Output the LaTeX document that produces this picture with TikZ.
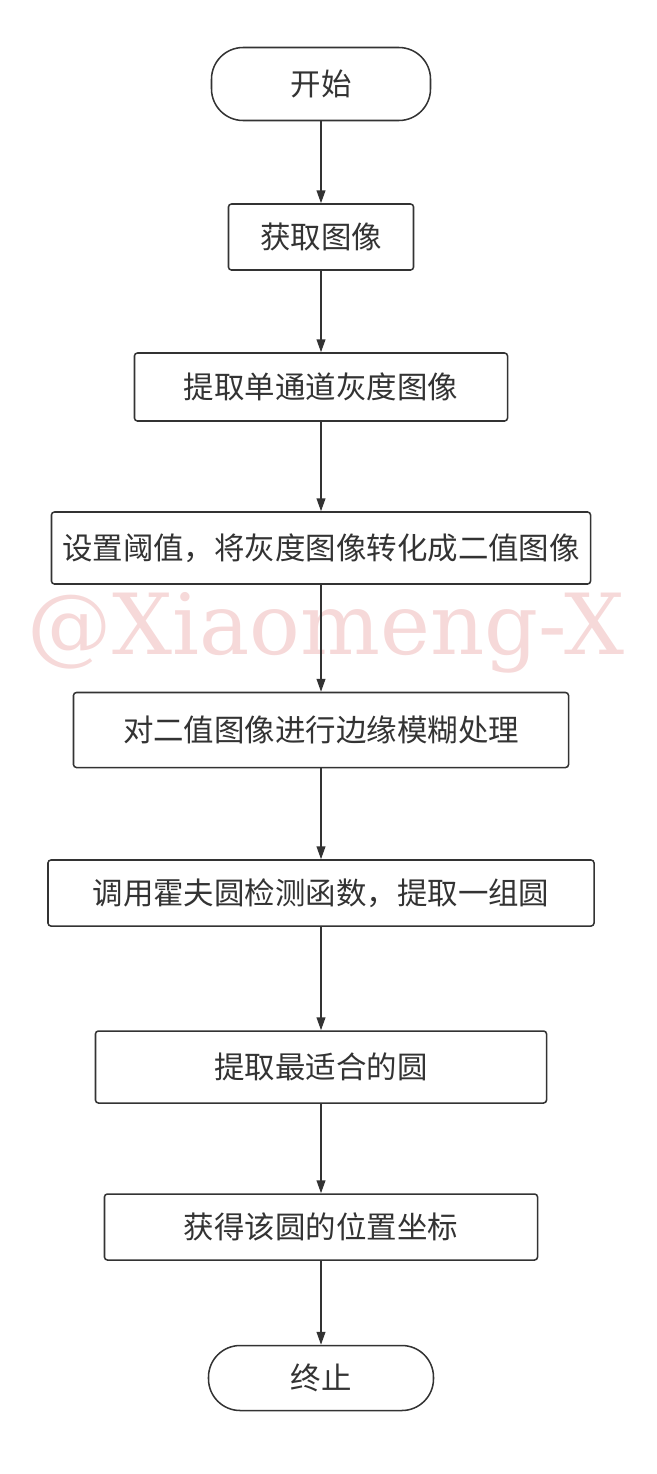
\documentclass[tikz,border=0pt]{standalone}
\usepackage{fontspec}
\setmainfont{Noto Sans CJK SC}
\newfontfamily\markfont{DejaVu Serif}
\usetikzlibrary{arrows.meta, positioning}
\definecolor{linegray}{HTML}{333333}
\definecolor{markpink}{HTML}{F6D9D9}
\tikzset{
    terminal/.style={
        rectangle, rounded corners=0.95cm, draw=linegray, line width=1.3pt,
        fill=white, text=linegray, font=\fontsize{26}{30}\selectfont
    },
    process/.style={
        rectangle, rounded corners=2.5pt, draw=linegray, line width=1.3pt,
        fill=white, text=linegray, font=\fontsize{26}{30}\selectfont
    },
    flow/.style={draw=linegray, line width=1.3pt, -{Triangle[length=11pt, width=7.5pt]}}
}

\begin{document}
\begin{tikzpicture}[x=0.03cm, y=-0.03cm]
\useasboundingbox (0,0) rectangle (657,1474);

% Watermark
\node[text=markpink, font=\markfont\fontsize{72}{74}\selectfont, inner sep=0pt] (mark) at (326,633) {@Xiaomeng-X};

% Steps
\node[terminal, minimum width=6.57cm, minimum height=2.19cm] (start) at (321,84) {开始};
\node[process, minimum width=5.55cm, minimum height=1.98cm] (grab) at (321,237) {获取图像};
\node[process, minimum width=11.19cm, minimum height=2.04cm] (gray) at (321,387) {提取单通道灰度图像};
\node[process, minimum width=16.17cm, minimum height=2.16cm] (binary) at (321,548) {设置阈值，将灰度图像转化成二值图像};
\node[process, minimum width=14.85cm, minimum height=2.25cm] (blur) at (321,730) {对二值图像进行边缘模糊处理};
\node[process, minimum width=16.38cm, minimum height=1.98cm] (hough) at (321,893) {调用霍夫圆检测函数，提取一组圆};
\node[process, minimum width=13.53cm, minimum height=2.16cm] (best) at (321,1067) {提取最适合的圆};
\node[process, minimum width=12.99cm, minimum height=1.98cm] (coord) at (321,1227) {获得该圆的位置坐标};
\node[terminal, minimum width=6.75cm, minimum height=1.95cm] (stop) at (321,1378) {终止};

% Connections
\draw[flow] (start) -- (grab);
\draw[flow] (grab) -- (gray);
\draw[flow] (gray) -- (binary);
\draw[flow] (binary) -- (blur);
\draw[flow] (blur) -- (hough);
\draw[flow] (hough) -- (best);
\draw[flow] (best) -- (coord);
\draw[flow] (coord) -- (stop);

\end{tikzpicture}
\end{document}
